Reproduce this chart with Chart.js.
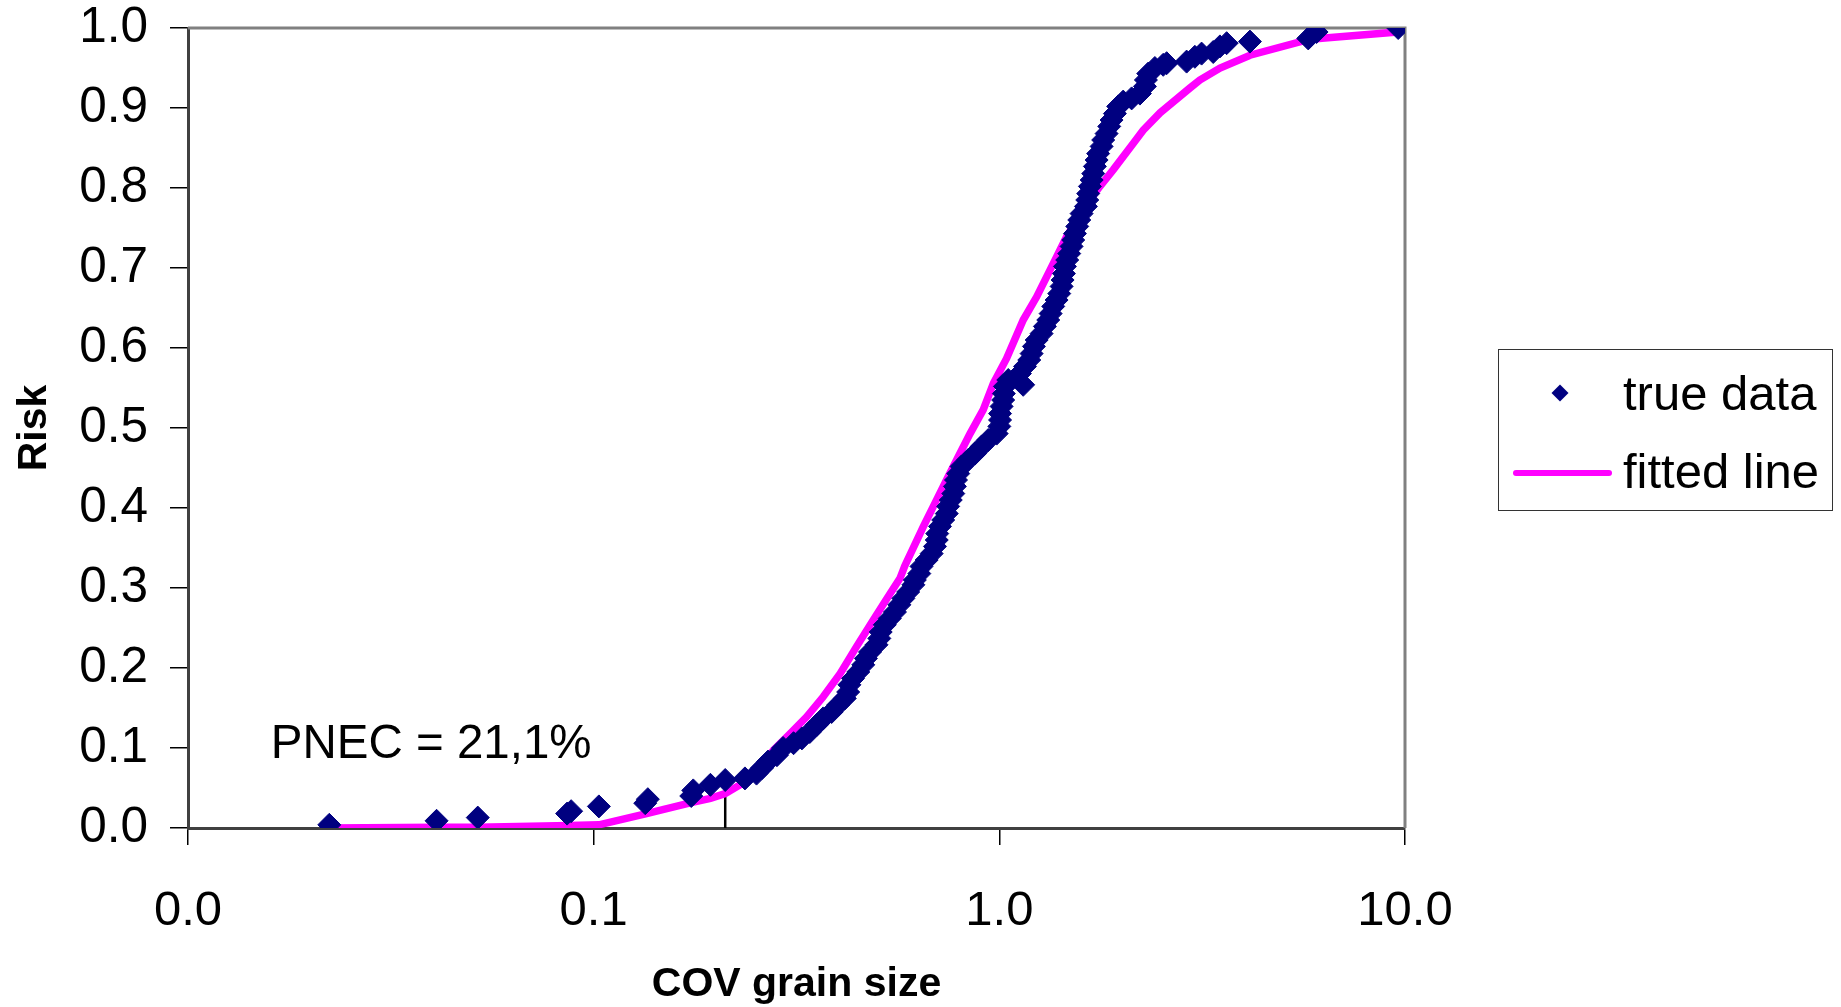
<!DOCTYPE html>
<html>
<head>
<meta charset="utf-8">
<title>Risk vs COV grain size</title>
<script src="https://cdn.jsdelivr.net/npm/chart.js@4.4.1/dist/chart.umd.min.js"></script>
<style>
  html, body { margin: 0; padding: 0; background: #fff; }
  #wrap { position: relative; width: 1841px; height: 1007px; }
  #legend {
    position: absolute; left: 1498px; top: 349px; width: 335px; height: 162px;
    box-sizing: border-box; border: 1.5px solid #333; background: #fff;
    font: 49px "Liberation Sans", Arial, sans-serif; color: #000;
  }
  #legend .txt { position: absolute; left: 124px; line-height: 49px; white-space: nowrap; }
  #legend .dia { position: absolute; left: 55px; top: 37px; width: 12px; height: 12px; background: #000080; transform: rotate(45deg); }
  #legend .ln { position: absolute; left: 14px; top: 120px; width: 99px; height: 6px; border-radius: 3px; background: #ff00ff; }
</style>
</head>
<body>
<div id="wrap">
  <canvas id="chart"></canvas>
  <div id="legend">
    <div class="dia"></div><div class="txt" id="lg0" style="top:19px"></div>
    <div class="ln"></div><div class="txt" id="lg1" style="top:97px"></div>
  </div>
</div>
<script>
// true data (COV grain size, cumulative risk)
const trueCov = [
  0.0223, 0.041, 0.0518, 0.086, 0.088, 0.103, 0.134, 0.136, 0.174, 0.176, 0.194, 0.211,
  0.236, 0.252, 0.260, 0.269, 0.283, 0.293, 0.311, 0.326, 0.341, 0.355, 0.368, 0.386, 0.401, 0.416,
  0.424, 0.427, 0.436, 0.449, 0.462, 0.469, 0.480, 0.498, 0.506, 0.510, 0.522, 0.537, 0.553, 0.567,
  0.580, 0.596, 0.614,
  0.619, 0.635, 0.643, 0.662, 0.681, 0.694, 0.701, 0.703, 0.714, 0.727, 0.742, 0.748, 0.759, 0.770,
  0.777, 0.782, 0.792, 0.807, 0.838, 0.871, 0.905, 0.939, 0.985, 1.000, 1.004, 1.004, 1.013, 1.022,
  1.026, 1.032, 1.052, 1.145, 1.124, 1.157,
  1.185, 1.201, 1.217, 1.236, 1.271, 1.295, 1.320, 1.338, 1.358, 1.384, 1.405, 1.424, 1.432, 1.443,
  1.451, 1.470, 1.487, 1.507, 1.521, 1.536, 1.556, 1.574, 1.595, 1.635, 1.647, 1.656, 1.672, 1.689,
  1.704, 1.720, 1.737, 1.752, 1.787,
  1.803, 1.838, 1.866, 1.891, 1.927, 1.963, 2.020, 2.119, 2.221, 2.285, 2.298, 2.328, 2.418, 2.535,
  2.585, 2.895, 3.034, 3.152, 3.367, 3.498, 3.633, 4.147, 5.774, 6.054, 9.62
];
const trueRisk = [
  0.004, 0.009, 0.013, 0.018, 0.021, 0.027, 0.031, 0.036, 0.040, 0.047, 0.054, 0.060,
  0.062, 0.068, 0.075, 0.083, 0.091, 0.100, 0.106, 0.112, 0.120, 0.129, 0.137, 0.145, 0.154, 0.162,
  0.170, 0.179, 0.187, 0.195, 0.204, 0.212, 0.220, 0.229, 0.237, 0.245, 0.254, 0.262, 0.270, 0.279,
  0.287, 0.295, 0.304,
  0.310, 0.318, 0.327, 0.335, 0.343, 0.352, 0.360, 0.368, 0.377, 0.385, 0.393, 0.402, 0.410, 0.418,
  0.427, 0.435, 0.443, 0.452, 0.460, 0.468, 0.477, 0.485, 0.493, 0.502, 0.510, 0.518, 0.527, 0.535,
  0.543, 0.552, 0.560, 0.554, 0.568, 0.577,
  0.585, 0.593, 0.602, 0.610, 0.618, 0.627, 0.635, 0.643, 0.652, 0.660, 0.668, 0.677, 0.685, 0.693,
  0.702, 0.710, 0.718, 0.727, 0.735, 0.743, 0.752, 0.760, 0.768, 0.777, 0.785, 0.793, 0.802, 0.810,
  0.818, 0.827, 0.835, 0.843, 0.852,
  0.860, 0.868, 0.877, 0.885, 0.893, 0.902, 0.908, 0.912, 0.918, 0.927, 0.935, 0.943, 0.950, 0.954,
  0.956, 0.958, 0.964, 0.968, 0.970, 0.977, 0.981, 0.983, 0.987, 0.995, 1.000
];

// fitted line
const fitCov = [
  0.0223, 0.041, 0.052, 0.087, 0.103, 0.135, 0.175, 0.194, 0.211, 0.233, 0.259, 0.277, 0.305, 0.335,
  0.368, 0.405, 0.445, 0.489, 0.527, 0.569, 0.585, 0.650, 0.694, 0.741, 0.792, 0.847, 0.913, 0.967,
  1.042, 1.145, 1.236, 1.384, 1.464, 1.609, 1.770, 1.910, 2.140, 2.260, 2.490, 2.950, 3.120, 3.500,
  4.150, 5.830, 9.600
];
const fitRisk = [
  0.000, 0.001, 0.001, 0.003, 0.004, 0.018, 0.032, 0.037, 0.043, 0.056, 0.077, 0.097, 0.118, 0.139,
  0.164, 0.193, 0.227, 0.260, 0.286, 0.312, 0.328, 0.377, 0.406, 0.435, 0.464, 0.493, 0.523, 0.556,
  0.587, 0.635, 0.664, 0.714, 0.739, 0.773, 0.802, 0.823, 0.856, 0.872, 0.894, 0.925, 0.935, 0.950,
  0.966, 0.986, 0.995
];

const xTicks = [0.01, 0.1, 1, 10];
const pnecCov = 0.211;
const pnecRisk = 0.045;
const pnecText = "PNEC = 21,1%";
const pnecTextAt = [0.016, 0.087];

const FONT = '"Liberation Sans", Arial, sans-serif';

const pts = (xs, ys) => xs.map((x, i) => ({ x: x, y: ys[i] }));

// top/right grey frame like the original plot area
const frame = {
  id: "frame",
  beforeDatasetsDraw(chart) {
    const { ctx, chartArea: { left, top, right, bottom } } = chart;
    ctx.save();
    ctx.strokeStyle = "#808080";
    ctx.lineWidth = 3;
    ctx.beginPath();
    ctx.moveTo(left, top);
    ctx.lineTo(right, top);
    ctx.lineTo(right, bottom);
    ctx.stroke();
    ctx.restore();
  },
};

const pnecLabel = {
  id: "pnecLabel",
  afterDatasetsDraw(chart) {
    const { ctx, scales: { x, y } } = chart;
    ctx.save();
    ctx.font = "47.5px " + FONT;
    ctx.fillStyle = "#000";
    ctx.textBaseline = "alphabetic";
    ctx.fillText(pnecText, x.getPixelForValue(pnecTextAt[0]), y.getPixelForValue(pnecTextAt[1]));
    ctx.restore();
  },
};

const chart = new Chart(document.getElementById("chart"), {
  type: "scatter",
  data: {
    datasets: [
      {
        label: "true data",
        data: pts(trueCov, trueRisk),
        backgroundColor: "#000080",
        borderColor: "#000080",
        borderWidth: 1,
        pointStyle: "rectRot",
        pointRadius: 11.5,
      },
      {
        label: "fitted line",
        data: pts(fitCov, fitRisk),
        showLine: true,
        borderColor: "#ff00ff",
        borderWidth: 7.5,
        pointRadius: 0,
        tension: 0,
      },
      {
        label: "PNEC",
        data: pts([pnecCov, pnecCov], [0, pnecRisk]),
        showLine: true,
        borderColor: "#000",
        borderWidth: 2.5,
        pointRadius: 0,
      },
    ],
  },
  options: {
    responsive: true,
    maintainAspectRatio: false,
    animation: false,
    layout: { padding: { top: 28, right: 436, left: 0, bottom: 0 } },
    plugins: { legend: { display: false }, tooltip: { enabled: false } },
    scales: {
      x: {
        type: "logarithmic",
        min: 0.01,
        max: 10,
        afterBuildTicks: s => { s.ticks = xTicks.map(v => ({ value: v })); },
        afterFit: s => { s.height = 1007 - 828; },
        ticks: {
          autoSkip: false,
          maxRotation: 0,
          padding: 42,
          color: "#000",
          font: { family: FONT, size: 49, lineHeight: 1 },
          callback: v => Number(v).toFixed(1),
        },
        grid: { drawOnChartArea: false, tickLength: 17, color: "#000", lineWidth: 1.5 },
        border: { color: "#404040", width: 3 },
        title: {
          display: true,
          text: "COV grain size",
          color: "#000",
          font: { family: FONT, size: 41, weight: "bold", lineHeight: 1.1 },
          padding: { top: 0, bottom: 0 },
        },
      },
      y: {
        min: 0,
        max: 1,
        afterFit: s => { s.width = 188; s.paddingTop = 0; s.paddingBottom = 0; },
        ticks: {
          stepSize: 0.1,
          padding: 22,
          color: "#000",
          font: { family: FONT, size: 49.5, lineHeight: 1 },
          callback: v => Number(v).toFixed(1),
        },
        grid: { drawOnChartArea: false, tickLength: 18, color: "#000", lineWidth: 1.5 },
        border: { color: "#404040", width: 3 },
        title: {
          display: true,
          text: "Risk",
          color: "#000",
          font: { family: FONT, size: 41, weight: "bold" },
          padding: { top: 10.5, bottom: 0 },
        },
      },
    },
  },
  plugins: [frame, pnecLabel],
});

document.getElementById("lg0").textContent = chart.data.datasets[0].label;
document.getElementById("lg1").textContent = chart.data.datasets[1].label;
</script>
</body>
</html>
